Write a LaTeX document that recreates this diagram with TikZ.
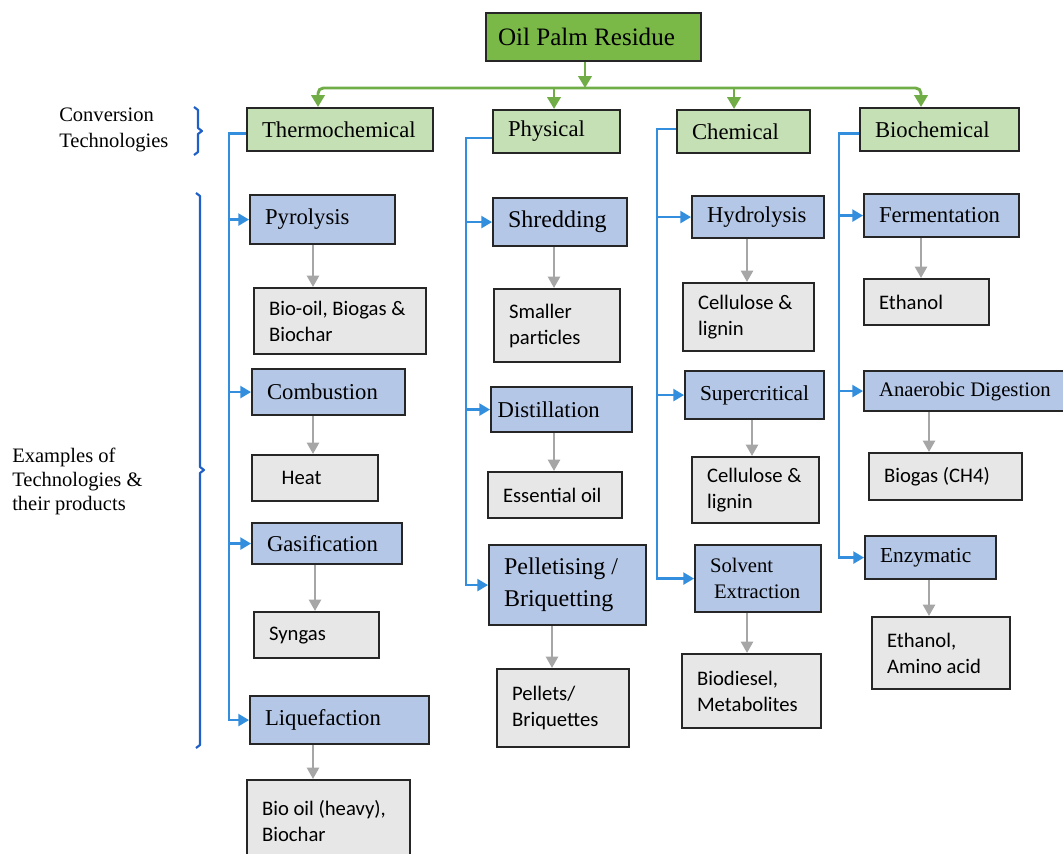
\documentclass[tikz,border=0pt]{standalone}
\usepackage{fontspec}
\setmainfont{Liberation Serif}
\newfontfamily\calib{Carlito}
\usetikzlibrary{arrows.meta}
\definecolor{rootgreen}{RGB}{122,184,72}
\definecolor{convgreen}{RGB}{197,224,180}
\definecolor{techblue}{RGB}{180,199,231}
\definecolor{prodgray}{RGB}{231,231,231}
\definecolor{lineblue}{RGB}{52,142,222}
\definecolor{brkblue}{RGB}{30,95,200}
\definecolor{arrgray}{RGB}{166,166,166}
\definecolor{linegreen}{RGB}{112,173,71}
% #1 pad (pt), #2 name, #3 style, #4 x1, #5 y1, #6 x2, #7 y2 (px), #8 text
\newcommand\mybox[8][11.25]{%
  \pgfmathsetmacro\mbW{(#6-#4)*0.75}%
  \pgfmathsetmacro\mbH{(#7-#5)*0.75}%
  \pgfmathsetmacro\mbT{(#6-#4)*0.75-2*#1}%
  \node[#3, anchor=north west, minimum width=\mbW pt, minimum height=\mbH pt,
        inner xsep=#1pt, inner ysep=0pt, text width=\mbT pt, align=flush left] (#2) at (#4,#5) {#8};%
}
\begin{document}
\begin{tikzpicture}[x=0.75pt,y=-0.75pt,
  boxbase/.style={draw=black!85, line width=1.6pt},
  rootbox/.style={boxbase, fill=rootgreen, font=\fontsize{18.8}{22}\selectfont},
  convbox/.style={boxbase, fill=convgreen, font=\fontsize{17}{20}\selectfont},
  techbox/.style={boxbase, fill=techblue, font=\fontsize{17}{21}\selectfont},
  prodbox/.style={boxbase, fill=prodgray, font=\calib\fontsize{15.5}{19.5}\selectfont},
  sidelabel/.style={font=\fontsize{15.4}{19.5}\selectfont, align=flush left, inner sep=0pt, anchor=west},
  greenarrow/.style={draw=linegreen, line width=2.2pt, -{Triangle[length=9pt,width=10pt]}},
  bluearrow/.style={draw=lineblue, line width=1.8pt, -{Triangle[length=8pt,width=9pt]}},
  grayarrow/.style={draw=arrgray, line width=1.8pt, -{Triangle[length=8.5pt,width=9pt]}},
  bracket/.style={draw=brkblue, line width=1.6pt, line join=round},
]
\useasboundingbox (0,0) rectangle (1063,853);
\clip (0,0) rectangle (1063,853);

% root and conversion technologies
\mybox[9]{root}{rootbox}{485}{12}{700}{60}{Oil Palm Residue}
\mybox{thermo}{convbox}{246}{107}{432}{150}{Thermochemical}
\mybox{phys}{convbox}{492}{109}{619}{152}{Physical}
\mybox{chem}{convbox}{676}{109}{809}{152}{Chemical}
\mybox{bio}{convbox}{859}{107}{1018}{150}{Biochemical}

% technologies
\mybox{pyro}{techbox}{249}{194}{394}{243}{Pyrolysis}
\mybox{comb}{techbox}{251}{368}{404}{414}{Combustion}
\mybox{gasi}{techbox}{251}{522}{401}{563}{Gasification}
\mybox{liqu}{techbox}{249}{695}{428}{743}{Liquefaction}
\mybox{shred}{techbox, font=\fontsize{18}{22}\selectfont}{492}{197}{626}{245}{Shredding}
\mybox[5]{dist}{techbox}{490}{386}{631}{431}{Distillation}
\mybox{pell}{techbox, font=\fontsize{18}{24}\selectfont}{488}{544}{645}{624}{Pelletising /\\Briquetting}
\mybox{hydro}{techbox}{691}{195}{823}{237}{Hydrolysis}
\mybox{super}{techbox, font=\fontsize{16}{20}\selectfont}{684}{370}{823}{418}{Supercritical}
\mybox{solv}{techbox, font=\fontsize{15.5}{19.5}\selectfont}{694}{544}{820}{611}{Solvent\\\hspace*{3pt}Extraction}
\mybox{ferm}{techbox}{863}{193}{1018}{236}{Fermentation}
\mybox{anae}{techbox, font=\fontsize{15.5}{19}\selectfont}{863}{370}{1072}{410}{Anaerobic Digestion}
\mybox{enzy}{techbox, font=\fontsize{16}{20}\selectfont}{864}{535}{995}{578}{Enzymatic}

% products
\mybox{p1}{prodbox}{253}{287}{425}{353}{Bio-oil, Biogas \&\\Biochar}
\mybox{p2}{prodbox}{251}{454}{377}{500}{\hspace*{11pt}Heat}
\mybox{p3}{prodbox}{253}{611}{378}{657}{Syngas}
\mybox{p4}{prodbox}{246}{779}{409}{860}{Bio oil (heavy),\\Biochar}
\mybox{p5}{prodbox}{493}{288}{619}{361}{Smaller\\particles}
\mybox{p6}{prodbox}{487}{471}{621}{517}{Essential oil}
\mybox{p7}{prodbox}{496}{668}{628}{746}{Pellets/\\Briquettes}
\mybox{p8}{prodbox}{682}{282}{813}{350}{Cellulose \&\\lignin}
\mybox{p9}{prodbox}{691}{456}{818}{522}{Cellulose \&\\lignin}
\mybox{p10}{prodbox}{681}{653}{820}{727}{Biodiesel,\\Metabolites}
\mybox{p11}{prodbox}{863}{278}{988}{324}{Ethanol}
\mybox{p12}{prodbox}{868}{452}{1021}{499}{Biogas (CH4)}
\mybox{p13}{prodbox}{871}{616}{1009}{688}{Ethanol,\\Amino acid}

% side labels and brackets
\node[sidelabel] (lab1) at (59,130) {Conversion\\Technologies};
\node[sidelabel, font=\fontsize{15.4}{18}\selectfont] (lab2) at (12,481) {Examples of\\Technologies \&\\their products};
\draw[bracket] (194,107) -- (198,110) -- (198,128) -- (202,131) -- (198,134) -- (198,152) -- (194,155);
\draw[bracket] (196,193) -- (200,196) -- (200,467) -- (204,470) -- (200,473) -- (200,745) -- (196,748);

% green connectors
\coordinate (hub) at (585,88);
\coordinate (xT) at (318,0);
\coordinate (xP) at (554,0);
\coordinate (xC) at (734,0);
\coordinate (xB) at (921,0);
\draw[greenarrow] (root.south -| hub) -- (hub);
\draw[greenarrow, rounded corners=4pt] (hub) -| (thermo.north -| xT);
\draw[greenarrow, rounded corners=4pt] (hub) -| (bio.north -| xB);
\draw[greenarrow] (hub -| xP) -- (phys.north -| xP);
\draw[greenarrow] (hub -| xC) -- (chem.north -| xC);

% blue connectors
\coordinate (vT) at (229,0);
\coordinate (vP) at (466,0);
\coordinate (vC) at (657,0);
\coordinate (vB) at (839,0);
\foreach \c in {pyro,comb,gasi,liqu}
  \draw[bluearrow] ([yshift=-3pt]thermo.west) -| (vT |- \c.west) -- (\c.west);
\foreach \c in {shred,dist,pell}
  \draw[bluearrow] ([yshift=-5pt]phys.west) -| (vP |- \c.west) -- (\c.west);
\foreach \c in {hydro,super,solv}
  \draw[bluearrow] ([yshift=2pt]chem.west) -| (vC |- \c.west) -- (\c.west);
\foreach \c in {ferm,anae,enzy}
  \draw[bluearrow] ([yshift=-3pt]bio.west) -| (vB |- \c.west) -- (\c.west);

% gray connectors
\foreach \a/\b/\x in {pyro/p1/313, comb/p2/313, gasi/p3/315, liqu/p4/313,
    shred/p5/554, dist/p6/554, pell/p7/552,
    hydro/p8/747, super/p9/752, solv/p10/747,
    ferm/p11/921, anae/p12/929, enzy/p13/929}{
  \coordinate (gx) at (\x,0);
  \draw[grayarrow] (\a.south -| gx) -- (\b.north -| gx);
}
\end{tikzpicture}
\end{document}
